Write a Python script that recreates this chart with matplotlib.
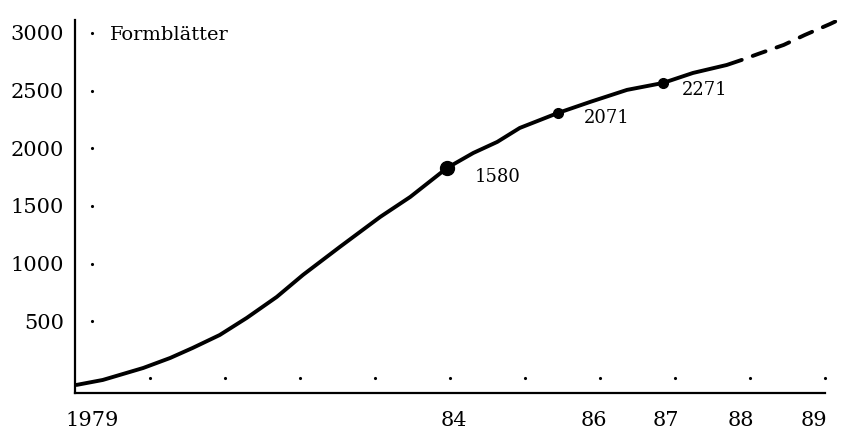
import matplotlib
matplotlib.use("Agg")
import matplotlib.pyplot as plt

# curve (year, Formblätter)
years = [1979.02, 1979.37, 1979.64, 1979.91, 1980.27, 1980.57, 1980.93,
         1981.29, 1981.69, 1982.04, 1982.53, 1983.07, 1983.47, 1983.96,
         1984.31, 1984.63, 1984.93, 1985.44, 1985.87, 1986.36, 1986.84,
         1987.24, 1987.69, 1987.89]
values = [-52, -9, 43, 95, 182, 269, 381, 529, 711, 902, 1144, 1405, 1578,
          1829, 1959, 2055, 2176, 2306, 2402, 2506, 2566, 2653, 2722, 2766]

# projected part (dashed)
proj_years = [1987.89, 1988.11, 1988.45, 1988.73, 1989.07, 1989.43]
proj_values = [2766, 2818, 2896, 2982, 3078, 3190]

# marked points and their printed labels
mark_years = [1983.96, 1985.44, 1986.84]
mark_values = [1829, 2306, 2566]
mark_labels = ["1580", "2071", "2271"]
mark_sizes = [10, 7, 7]

yticks = [500, 1000, 1500, 2000, 2500, 3000]
xtick_labels = ["1979", "84", "86", "87", "88", "89"]
dot_years = list(range(1980, 1990))


def main():
    plt.rcParams["font.family"] = "DejaVu Serif"
    fig = plt.figure(figsize=(8.57, 4.36), dpi=100)
    ax = fig.add_axes([75 / 857, 43 / 436, 782 / 857, 373 / 436])

    ax.set_xlim(1979, 1979 + 782 / 75)
    ax.set_ylim(-122, 3112)

    for side in ["top", "right"]:
        ax.spines[side].set_visible(False)
    ax.spines["left"].set_linewidth(1.6)
    ax.spines["bottom"].set_linewidth(1.6)
    ax.spines["bottom"].set_bounds(1979, 1989)

    # curve
    ax.plot(years, values, color="black", lw=2.8,
            solid_capstyle="round", solid_joinstyle="round")
    ax.plot(proj_years, proj_values, color="black", lw=2.8,
            linestyle=(3.5, (3.5, 3.0)), dash_capstyle="round")

    # marked points
    for x, y, s in zip(mark_years, mark_values, mark_sizes):
        ax.plot(x, y, "o", color="black", markersize=s)
    label_pos = [(1984.63, 1751), (1986.09, 2263), (1987.4, 2506)]
    for (lx, ly), txt in zip(label_pos, mark_labels):
        ax.text(lx, ly, txt, fontsize=13, ha="center", va="center")

    # dotted tick marks inside the axes
    ax.plot([1979.23] * len(yticks), yticks, ".", color="black",
            markersize=2.5)
    ax.plot(dot_years, [10] * len(dot_years), ".", color="black",
            markersize=2.5)

    # ticks
    ax.set_yticks(yticks)
    ax.set_yticklabels([str(v) for v in yticks], fontsize=15)
    ax.set_xticks([1979.23, 1984.05, 1985.92, 1986.88, 1987.88, 1988.85])
    ax.set_xticklabels(xtick_labels, fontsize=15)
    ax.tick_params(axis="y", length=0, pad=8)
    ax.tick_params(axis="x", length=0, pad=13)

    ax.text(1979.47, 2939, "Formblätter", fontsize=14, va="baseline",
            ha="left")

    fig.savefig("out.png", dpi=100)


if __name__ == "__main__":
    main()
